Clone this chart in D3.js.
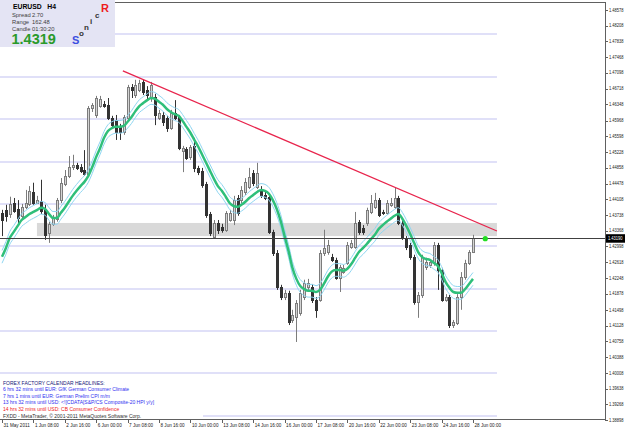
<!DOCTYPE html>
<html>
<head>
<meta charset="utf-8">
<script src="https://cdn.jsdelivr.net/npm/d3@7"></script>
<style>
  html, body { margin: 0; padding: 0; background: #ffffff; }
  svg { display: block; font-family: "Liberation Sans", Arial, sans-serif; }
</style>
</head>
<body>
<div id="chart"></div>
<script>
// EURUSD H4 candles, 31 May 2011 00:00 -> 28 Jun 2011 00:00 (121 bars)
const opens = [
  1.4379, 1.4386, 1.4376, 1.4402, 1.4388, 1.4372, 1.4393, 1.4400, 1.4428, 1.4402,
  1.4407, 1.4386, 1.4332, 1.4353, 1.4365, 1.4409, 1.4447, 1.4466, 1.4487, 1.4492,
  1.4487, 1.4480, 1.4471, 1.4627, 1.4610, 1.4631, 1.4636, 1.4634, 1.4603, 1.4598,
  1.4582, 1.4570, 1.4603, 1.4676, 1.4657, 1.4669, 1.4688, 1.4669, 1.4650, 1.4652,
  1.4603, 1.4610, 1.4603, 1.4579, 1.4615, 1.4605, 1.4525, 1.4530, 1.4511, 1.4537,
  1.4485, 1.4478, 1.4447, 1.4376, 1.4322, 1.4355, 1.4346, 1.4339, 1.4362, 1.4362,
  1.4414, 1.4409, 1.4428, 1.4440, 1.4473, 1.4440, 1.4433, 1.4421, 1.4416, 1.4334,
  1.4284, 1.4204, 1.4180, 1.4190, 1.4126, 1.4133, 1.4143, 1.4180, 1.4204, 1.4204,
  1.4173, 1.4173, 1.4284, 1.4287, 1.4275, 1.4268, 1.4225, 1.4239, 1.4261, 1.4299,
  1.4299, 1.4358, 1.4343, 1.4355, 1.4381, 1.4393, 1.4409, 1.4381, 1.4379, 1.4398,
  1.4393, 1.4414, 1.4355, 1.4320, 1.4303, 1.4275, 1.4169, 1.4185, 1.4251, 1.4256,
  1.4261, 1.4303, 1.4244, 1.4173, 1.4180, 1.4114, 1.4119, 1.4180, 1.4228, 1.4261,
  1.4287
]
const highs = [
  1.4386, 1.4398, 1.4417, 1.4414, 1.4409, 1.4400, 1.4433, 1.4442, 1.4450, 1.4419,
  1.4457, 1.4398, 1.4358, 1.4374, 1.4414, 1.4461, 1.4480, 1.4513, 1.4516, 1.4497,
  1.4494, 1.4527, 1.4631, 1.4638, 1.4655, 1.4655, 1.4643, 1.4650, 1.4608, 1.4610,
  1.4589, 1.4610, 1.4681, 1.4683, 1.4693, 1.4693, 1.4693, 1.4678, 1.4688, 1.4660,
  1.4622, 1.4617, 1.4608, 1.4622, 1.4645, 1.4610, 1.4537, 1.4534, 1.4539, 1.4556,
  1.4490, 1.4485, 1.4452, 1.4381, 1.4362, 1.4362, 1.4353, 1.4383, 1.4386, 1.4419,
  1.4421, 1.4442, 1.4461, 1.4485, 1.4480, 1.4497, 1.4442, 1.4428, 1.4421, 1.4339,
  1.4291, 1.4209, 1.4197, 1.4195, 1.4150, 1.4173, 1.4197, 1.4221, 1.4223, 1.4211,
  1.4180, 1.4291, 1.4339, 1.4315, 1.4282, 1.4273, 1.4256, 1.4256, 1.4310, 1.4315,
  1.4381, 1.4362, 1.4350, 1.4391, 1.4421, 1.4426, 1.4414, 1.4386, 1.4409, 1.4414,
  1.4438, 1.4419, 1.4360, 1.4324, 1.4308, 1.4280, 1.4192, 1.4280, 1.4273, 1.4270,
  1.4310, 1.4308, 1.4249, 1.4187, 1.4185, 1.4126, 1.4187, 1.4239, 1.4268, 1.4291,
  1.4327
]
const lows = [
  1.4324, 1.4358, 1.4367, 1.4379, 1.4353, 1.4362, 1.4388, 1.4395, 1.4398, 1.4400,
  1.4376, 1.4315, 1.4308, 1.4348, 1.4358, 1.4402, 1.4442, 1.4461, 1.4480, 1.4480,
  1.4473, 1.4466, 1.4466, 1.4617, 1.4603, 1.4627, 1.4627, 1.4598, 1.4579, 1.4551,
  1.4551, 1.4563, 1.4598, 1.4650, 1.4650, 1.4664, 1.4657, 1.4645, 1.4641, 1.4586,
  1.4598, 1.4584, 1.4570, 1.4575, 1.4598, 1.4527, 1.4475, 1.4504, 1.4504, 1.4475,
  1.4468, 1.4438, 1.4367, 1.4324, 1.4320, 1.4329, 1.4332, 1.4334, 1.4358, 1.4350,
  1.4372, 1.4402, 1.4421, 1.4435, 1.4442, 1.4435, 1.4414, 1.4409, 1.4329, 1.4277,
  1.4197, 1.4173, 1.4173, 1.4114, 1.4119, 1.4074, 1.4136, 1.4173, 1.4197, 1.4166,
  1.4131, 1.4169, 1.4277, 1.4280, 1.4263, 1.4221, 1.4192, 1.4235, 1.4256, 1.4294,
  1.4294, 1.4327, 1.4327, 1.4348, 1.4376, 1.4388, 1.4369, 1.4374, 1.4374, 1.4393,
  1.4388, 1.4350, 1.4315, 1.4291, 1.4268, 1.4162, 1.4131, 1.4178, 1.4244, 1.4249,
  1.4254, 1.4197, 1.4169, 1.4169, 1.4107, 1.4107, 1.4114, 1.4150, 1.4221, 1.4256,
  1.4284
]
const closes = [
  1.4362, 1.4372, 1.4400, 1.4383, 1.4367, 1.4393, 1.4402, 1.4431, 1.4402, 1.4409,
  1.4383, 1.4327, 1.4353, 1.4367, 1.4409, 1.4450, 1.4466, 1.4487, 1.4492, 1.4485,
  1.4478, 1.4471, 1.4627, 1.4634, 1.4650, 1.4648, 1.4631, 1.4603, 1.4586, 1.4570,
  1.4570, 1.4605, 1.4676, 1.4669, 1.4681, 1.4686, 1.4664, 1.4657, 1.4681, 1.4610,
  1.4615, 1.4594, 1.4579, 1.4615, 1.4603, 1.4532, 1.4532, 1.4508, 1.4534, 1.4485,
  1.4475, 1.4445, 1.4374, 1.4332, 1.4355, 1.4339, 1.4339, 1.4379, 1.4379, 1.4409,
  1.4379, 1.4433, 1.4452, 1.4464, 1.4450, 1.4473, 1.4421, 1.4414, 1.4334, 1.4284,
  1.4204, 1.4180, 1.4190, 1.4121, 1.4138, 1.4166, 1.4190, 1.4214, 1.4214, 1.4173,
  1.4150, 1.4284, 1.4296, 1.4303, 1.4268, 1.4225, 1.4251, 1.4249, 1.4303, 1.4308,
  1.4355, 1.4334, 1.4334, 1.4386, 1.4402, 1.4409, 1.4374, 1.4379, 1.4402, 1.4402,
  1.4414, 1.4355, 1.4320, 1.4299, 1.4275, 1.4169, 1.4185, 1.4275, 1.4263, 1.4263,
  1.4303, 1.4244, 1.4173, 1.4180, 1.4114, 1.4121, 1.4180, 1.4228, 1.4261, 1.4287,
  1.4319
]
// thick green moving average, one value per bar
const maValues = [
  1.4275, 1.4296, 1.4320, 1.4334, 1.4348, 1.4362, 1.4369, 1.4376, 1.4381, 1.4386,
  1.4391, 1.4388, 1.4376, 1.4367, 1.4367, 1.4379, 1.4391, 1.4405, 1.4419, 1.4431,
  1.4442, 1.4452, 1.4466, 1.4487, 1.4511, 1.4532, 1.4556, 1.4572, 1.4579, 1.4582,
  1.4582, 1.4584, 1.4594, 1.4605, 1.4619, 1.4631, 1.4638, 1.4645, 1.4650, 1.4648,
  1.4641, 1.4634, 1.4624, 1.4617, 1.4612, 1.4608, 1.4596, 1.4582, 1.4568, 1.4551,
  1.4535, 1.4516, 1.4497, 1.4478, 1.4459, 1.4442, 1.4431, 1.4417, 1.4402, 1.4395,
  1.4393, 1.4398, 1.4405, 1.4414, 1.4421, 1.4428, 1.4433, 1.4431, 1.4424, 1.4409,
  1.4388, 1.4360, 1.4324, 1.4289, 1.4249, 1.4223, 1.4206, 1.4199, 1.4195, 1.4195,
  1.4192, 1.4197, 1.4211, 1.4228, 1.4240, 1.4244, 1.4244, 1.4242, 1.4247, 1.4258,
  1.4273, 1.4287, 1.4296, 1.4306, 1.4317, 1.4327, 1.4341, 1.4350, 1.4358, 1.4365,
  1.4372, 1.4376, 1.4365, 1.4348, 1.4329, 1.4308, 1.4287, 1.4275, 1.4270, 1.4268,
  1.4261, 1.4254, 1.4237, 1.4216, 1.4202, 1.4192, 1.4190, 1.4190, 1.4199, 1.4211,
  1.4223
]
const envelopeDeviation = 0.0015

// time axis: one label every 8 bars
const timeLabels = [
  "31 May 2011", "1 Jun 08:00", "2 Jun 16:00", "6 Jun 00:00", "7 Jun 08:00",
  "8 Jun 16:00", "10 Jun 00:00", "13 Jun 08:00", "14 Jun 16:00", "16 Jun 00:00",
  "17 Jun 08:00", "20 Jun 16:00", "22 Jun 00:00", "23 Jun 08:00", "24 Jun 16:00",
  "28 Jun 00:00"
]
// price axis labels
const priceTicks = [
  1.48578, 1.48208, 1.47838, 1.47468, 1.47098, 1.46718, 1.46348, 1.45968, 1.45598,
  1.45228, 1.44858, 1.44478, 1.44108, 1.43738, 1.43368, 1.42998, 1.42618, 1.42248,
  1.41878, 1.41498, 1.41128, 1.40758, 1.40388, 1.40008, 1.39638, 1.39268, 1.38898
]
const roundLevels = [1.48, 1.47, 1.46, 1.45, 1.44, 1.43, 1.42, 1.41, 1.40, 1.39]
const bidPrice = 1.4319

// drawn objects: [bar index, price]
const trendLine = [[30.8, 1.4714], [126.1, 1.4336]]
const zoneBars = [8.9, 126.1]
const zonePrices = [1.4355, 1.4324]
const objectsEndBar = 126.1
const signalDot = [123, 1.4319]

// info panel
const infoSymbol = "EURUSD   H4"
const infoRows = [["Spread", "2.70"], ["Range", "162.48"], ["Candle", "01:30:20"]]
const infoBid = "1.4319"
const sonicLetters = ["S", "o", "n", "i", "c", "R"]

// calendar text block
const headlines = [
  "FOREX FACTORY CALENDAR HEADLINES:",
  "6 hrs 32 mins until EUR: GfK German Consumer Climate",
  "7 hrs 1 mins until EUR: German Prelim CPI m/m",
  "13 hrs 32 mins until USD: <![CDATA[S&P/CS Composite-20 HPI y/y]",
  "14 hrs 32 mins until USD: CB Consumer Confidence"
]
const copyright = "FXDD - MetaTrader, \u00a9 2001-2011 MetaQuotes Software Corp."

// ----------------------------------------------------------------------------
const CONFIG = {
  width: 625,
  height: 429,
  plot: { left: 0, right: 605, top: 2, bottom: 419 },
  colors: {
    bg: "#ffffff",
    frame: "#606060",
    level: "#e0e0f8",
    zone: "#d9d9d9",
    bullFill: "#d4d4d4",
    bullStroke: "#7c7c7c",
    bear: "#333333",
    ma: "#2fbf7a",
    envelope: "#8fd6f2",
    trend: "#e8244c",
    bid: "#404040",
    dot: "#22dd22",
    text: "#202020",
    infoBg: "#e4e4f4",
    infoBid: "#2a9a2a",
    headlines: ["#20207a", "#3030f0", "#3030f0", "#3030f0", "#f02020"]
  }
}

const x = d3.scaleLinear().domain([0, 120]).range([2, 473])
const y = d3.scaleLinear().domain([1.38898, 1.48578]).range([420, 10])

const svg = d3.select("#chart").append("svg")
  .attr("width", CONFIG.width)
  .attr("height", CONFIG.height)

svg.append("rect").attr("width", CONFIG.width).attr("height", CONFIG.height).attr("fill", CONFIG.colors.bg)

const crisp = v => Math.round(v) + 0.5

// round number levels
svg.append("g").selectAll("line").data(roundLevels).join("line")
  .attr("x1", 0).attr("x2", x(objectsEndBar))
  .attr("y1", d => Math.round(y(d))).attr("y2", d => Math.round(y(d)))
  .attr("stroke", CONFIG.colors.level).attr("stroke-width", 2)

// support zone
svg.append("rect")
  .attr("x", x(zoneBars[0])).attr("width", x(zoneBars[1]) - x(zoneBars[0]))
  .attr("y", y(zonePrices[0])).attr("height", y(zonePrices[1]) - y(zonePrices[0]))
  .attr("fill", CONFIG.colors.zone)

// candles
const bars = d3.range(closes.length).map(i => ({
  i, o: opens[i], h: highs[i], l: lows[i], c: closes[i], up: closes[i] >= opens[i]
}))

const candles = svg.append("g").selectAll("g").data(bars).join("g")
candles.append("line")
  .attr("x1", d => crisp(x(d.i))).attr("x2", d => crisp(x(d.i)))
  .attr("y1", d => y(d.h)).attr("y2", d => y(d.l))
  .attr("stroke", d => d.up ? CONFIG.colors.bullStroke : CONFIG.colors.bear)
candles.append("rect")
  .attr("x", d => Math.round(x(d.i)) - 0.5)
  .attr("width", 2)
  .attr("y", d => Math.round(y(Math.max(d.o, d.c))) + 0.5)
  .attr("height", d => Math.max(1, Math.round(y(Math.min(d.o, d.c)) - y(Math.max(d.o, d.c)))))
  .attr("fill", d => d.up ? CONFIG.colors.bullFill : CONFIG.colors.bear)
  .attr("stroke", d => d.up ? CONFIG.colors.bullStroke : CONFIG.colors.bear)

// moving average with envelopes
const maLine = d3.line().x((d, i) => x(i)).y(d => y(d)).curve(d3.curveMonotoneX)
;[envelopeDeviation, -envelopeDeviation].forEach(dev => {
  svg.append("path").datum(maValues.map(v => v + dev))
    .attr("d", maLine).attr("fill", "none")
    .attr("stroke", CONFIG.colors.envelope).attr("stroke-width", 1)
})
svg.append("path").datum(maValues)
  .attr("d", maLine).attr("fill", "none")
  .attr("stroke", CONFIG.colors.ma).attr("stroke-width", 2.5)

// trend line
svg.append("line")
  .attr("x1", x(trendLine[0][0])).attr("y1", y(trendLine[0][1]))
  .attr("x2", x(trendLine[1][0])).attr("y2", y(trendLine[1][1]))
  .attr("stroke", CONFIG.colors.trend).attr("stroke-width", 1.3)

// bid line
svg.append("line")
  .attr("x1", 0).attr("x2", CONFIG.plot.right)
  .attr("y1", crisp(y(bidPrice))).attr("y2", crisp(y(bidPrice)))
  .attr("stroke", CONFIG.colors.bid).attr("stroke-width", 1)

svg.append("circle")
  .attr("cx", x(signalDot[0]) + 0.5).attr("cy", y(signalDot[1]) + 0.5).attr("r", 2.6)
  .attr("fill", CONFIG.colors.dot)

// frame
const frame = svg.append("g").attr("stroke", CONFIG.colors.frame).attr("stroke-width", 1)
frame.append("line").attr("x1", 0).attr("x2", CONFIG.plot.right + 0.5)
  .attr("y1", CONFIG.plot.top + 0.5).attr("y2", CONFIG.plot.top + 0.5)
frame.append("line").attr("x1", 0).attr("x2", CONFIG.plot.right + 0.5)
  .attr("y1", CONFIG.plot.bottom + 0.5).attr("y2", CONFIG.plot.bottom + 0.5)
frame.append("line").attr("x1", CONFIG.plot.right + 0.5).attr("x2", CONFIG.plot.right + 0.5)
  .attr("y1", CONFIG.plot.top).attr("y2", CONFIG.plot.bottom + 1)

// price axis
const yAxis = svg.append("g")
yAxis.selectAll("line").data(priceTicks).join("line")
  .attr("x1", CONFIG.plot.right).attr("x2", CONFIG.plot.right + 3)
  .attr("y1", d => crisp(y(d))).attr("y2", d => crisp(y(d)))
  .attr("stroke", CONFIG.colors.frame)
yAxis.selectAll("text").data(priceTicks).join("text")
  .attr("x", 609).attr("y", d => y(d) + 1.7)
  .attr("font-size", 4.6).attr("fill", CONFIG.colors.text)
  .attr("textLength", 14.5).attr("lengthAdjust", "spacingAndGlyphs")
  .text(d => d.toFixed(5))

const bidY = y(bidPrice)
yAxis.append("rect").attr("x", 606).attr("y", bidY - 4).attr("width", 19).attr("height", 8.5).attr("fill", "#000")
yAxis.append("text").attr("x", 608).attr("y", bidY + 1.8)
  .attr("font-size", 4.6).attr("fill", "#fff")
  .attr("textLength", 14.5).attr("lengthAdjust", "spacingAndGlyphs")
  .text(bidPrice.toFixed(5))

// time axis
const xAxis = svg.append("g")
xAxis.selectAll("line").data(timeLabels).join("line")
  .attr("x1", (d, k) => crisp(x(k * 8))).attr("x2", (d, k) => crisp(x(k * 8)))
  .attr("y1", CONFIG.plot.bottom).attr("y2", CONFIG.plot.bottom + 4)
  .attr("stroke", CONFIG.colors.frame)
xAxis.selectAll("text").data(timeLabels).join("text")
  .attr("x", (d, k) => x(k * 8) + 1.5).attr("y", 426.5)
  .attr("font-size", 4.6).attr("fill", CONFIG.colors.text)
  .text(d => d)

// calendar headlines
const news = svg.append("g")
news.append("rect").attr("x", 0).attr("y", 411).attr("width", 203).attr("height", 7.5).attr("fill", CONFIG.colors.bg)
news.selectAll("text.h").data(headlines).join("text").attr("class", "h")
  .attr("x", 3).attr("y", (d, k) => 384.5 + k * 6.5)
  .attr("font-size", 5).attr("fill", (d, k) => CONFIG.colors.headlines[k])
  .text(d => d)
news.append("text").attr("x", 3).attr("y", 417.5)
  .attr("font-size", 5).attr("fill", "#303030").text(copyright)

// info panel
const info = svg.append("g")
info.append("rect").attr("x", 0).attr("y", 0).attr("width", 115).attr("height", 47).attr("fill", CONFIG.colors.infoBg)
info.append("text").attr("x", 13).attr("y", 8.5)
  .attr("font-size", 6.8).attr("font-weight", "bold").attr("fill", "#000")
  .style("white-space", "pre").text(infoSymbol)
infoRows.forEach((row, k) => {
  info.append("text").attr("x", 12).attr("y", 17 + k * 7.2).attr("font-size", 5.8).attr("fill", "#404040").text(row[0])
  info.append("text").attr("x", 32).attr("y", 17 + k * 7.2).attr("font-size", 5.8).attr("fill", "#404040").text(row[1])
})
info.append("text").attr("x", 11.5).attr("y", 44)
  .attr("font-size", 14.5).attr("font-weight", "bold").attr("fill", CONFIG.colors.infoBid).text(infoBid)

const sonicPos = [[72, 44, 11, "#3c4ee0"], [79, 36, 8, "#333"], [84, 30, 8, "#333"], [90, 24, 8, "#333"], [95, 18, 8, "#333"], [101, 12, 11, "#ee1c1c"]]
info.selectAll("text.sonic").data(sonicLetters).join("text").attr("class", "sonic")
  .attr("x", (d, k) => sonicPos[k][0]).attr("y", (d, k) => sonicPos[k][1])
  .attr("font-size", (d, k) => sonicPos[k][2]).attr("font-weight", "bold")
  .attr("fill", (d, k) => sonicPos[k][3]).text(d => d)
</script>
</body>
</html>
